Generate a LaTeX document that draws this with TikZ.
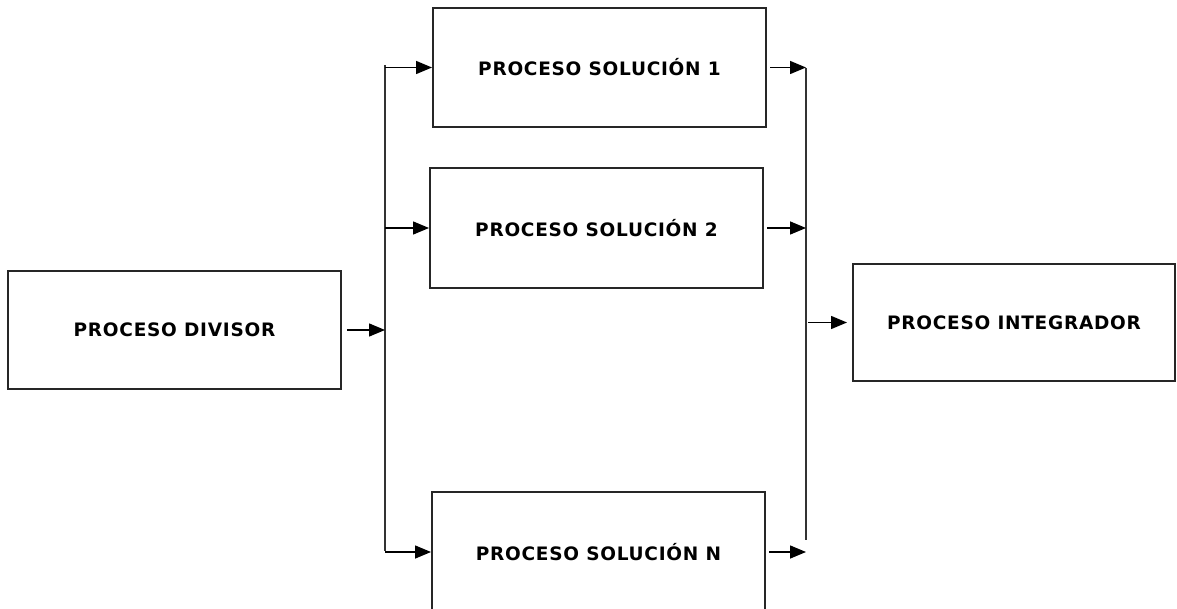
\documentclass[tikz,border=0pt]{standalone}
\usepackage{xcolor}
\usepackage{fontspec}
\usepackage{tikz}
\usetikzlibrary{arrows.meta}
\newfontfamily\boxfont{DejaVu Sans}[LetterSpace=4]

\begin{document}
\begin{tikzpicture}[x=1pt,y=-1pt]
        \tikzstyle{proc}=[draw=black!85, line width=2pt, inner sep=0pt, font=\boxfont\bfseries\fontsize{18.5}{22}\selectfont]
        \tikzstyle{bus}=[draw=black!80, line width=2pt]
        \tikzstyle{flecha}=[draw=black, line width=1.5pt, -{Triangle[length=16pt,width=13pt]}]
        \useasboundingbox (0,0) rectangle (1177,609);
        \node [proc, minimum width=333pt, minimum height=118pt] (divisor) at (174.5,330) {PROCESO DIVISOR};
        \node [proc, minimum width=333pt, minimum height=119pt] (sol1) at (599.5,67.5) {PROCESO SOLUCIÓN 1};
        \node [proc, minimum width=333pt, minimum height=120pt] (sol2) at (596.5,228) {PROCESO SOLUCIÓN 2};
        \node [proc, minimum width=333pt, minimum height=120pt] (solN) at (598.5,552) {PROCESO SOLUCIÓN N};
        \node [proc, minimum width=322pt, minimum height=117pt] (integ) at (1014,322.5) {PROCESO INTEGRADOR};
        % barras de reparto y de recogida
        \coordinate (lbusA) at (385,65);
        \coordinate (lbusB) at (385,551);
        \coordinate (rbusA) at (806,68);
        \coordinate (rbusB) at (806,540);
        \draw [bus] (lbusA) -- (lbusB);
        \draw [bus] (rbusA) -- (rbusB);
        \draw [flecha] ([xshift=5pt]divisor.east) -- (divisor.east -| lbusA);
        \draw [flecha] (sol1.west -| lbusA) -- (sol1.west);
        \draw [flecha] (sol2.west -| lbusA) -- (sol2.west);
        \draw [flecha] (solN.west -| lbusA) -- (solN.west);
        \draw [flecha] ([xshift=3pt]sol1.east) -- (sol1.east -| rbusA);
        \draw [flecha] ([xshift=3pt]sol2.east) -- (sol2.east -| rbusA);
        \draw [flecha] ([xshift=3pt]solN.east) -- (solN.east -| rbusA);
        \draw [flecha] ([xshift=2pt]integ.west -| rbusA) -- ([xshift=-5pt]integ.west);
\end{tikzpicture}
\end{document}
